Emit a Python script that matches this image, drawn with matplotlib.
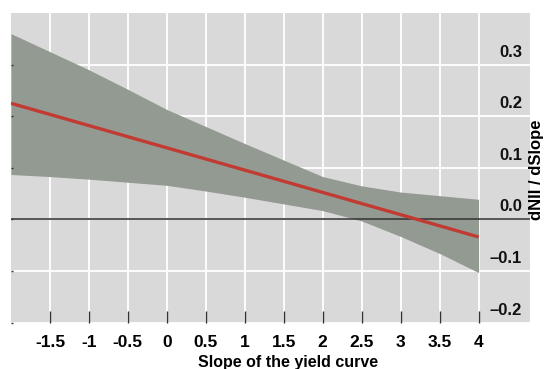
import matplotlib.pyplot as plt
from matplotlib import transforms

# slope of the yield curve and the estimated effect on NII
slope = [-2, -1.5, -1, -0.5, 0, 0.5, 1, 1.5, 2, 2.5, 3, 3.5, 4]
upper = [0.36, 0.325, 0.29, 0.252, 0.213, 0.18, 0.147, 0.115, 0.083, 0.065, 0.053, 0.046, 0.039]
lower = [0.087, 0.083, 0.078, 0.072, 0.066, 0.055, 0.043, 0.030, 0.017, -0.003, -0.033, -0.066, -0.103]
line_x = [-2, 4]
line_y = [0.225, -0.034]

xticks = [-1.5, -1, -0.5, 0, 0.5, 1, 1.5, 2, 2.5, 3, 3.5, 4]
xtick_labels = ["-1.5", "-1", "-0.5", "0", "0.5", "1", "1.5", "2", "2.5", "3", "3.5", "4"]
yticks = [-0.2, -0.1, 0.0, 0.1, 0.2, 0.3]
ytick_labels = ["\u20130.2", "\u20130.1", "0.0", "0.1", "0.2", "0.3"]

plt.rcParams["font.family"] = ["Liberation Sans", "DejaVu Sans"]

fig = plt.figure(figsize=(5.46, 3.69), dpi=100)
ax = fig.add_axes([0.0201, 0.1257, 0.9506, 0.8391])
ax.set_facecolor("#d9d9d9")
ax.set_axisbelow(False)
for s in ax.spines.values():
    s.set_visible(False)

ax.set_xlim(-2, 4.66)
ax.set_ylim(-0.2, 0.4)

# grid
for x in xticks:
    ax.axvline(x, color="white", lw=1.3, zorder=1)
for y in yticks:
    ax.axhline(y, color="white", lw=1.3, zorder=1)

ax.fill_between(slope, lower, upper, color="#939a92", lw=0, zorder=2)
ax.axhline(0, color="#3a3a3a", lw=1.2, zorder=3)
ax.plot(line_x, line_y, color="#c23b33", lw=2.4, solid_capstyle="butt", zorder=4)

ax.set_xticks(xticks)
ax.set_xticklabels(xtick_labels, fontsize=12.5, fontweight="bold")
ax.tick_params(axis="x", direction="in", length=8.6, width=1, color="#333333", pad=9)

ax.set_yticks(yticks)
ax.set_yticklabels([])
ax.tick_params(axis="y", direction="in", length=1.5, width=1, color="#333333")

# value labels sit just above their gridline on the right
trans = transforms.blended_transform_factory(ax.transAxes, ax.transData)
trans = trans + transforms.ScaledTranslation(0, 5 / 100, fig.dpi_scale_trans)
for y, lab in zip(yticks, ytick_labels):
    ax.text(0.9846, y, lab, transform=trans, ha="right", va="bottom",
            fontsize=12, fontweight="bold", color="#111111", zorder=5)

fig.text(0.528, 1 - 362 / 369, "Slope of the yield curve", ha="center", va="center",
         fontsize=11.5, fontweight="bold")
fig.text(536 / 546, 1 - 170 / 369, "dNII / dSlope", rotation=90, ha="center",
         va="center", fontsize=12, fontweight="bold")

fig.savefig("out.png", dpi=100)
